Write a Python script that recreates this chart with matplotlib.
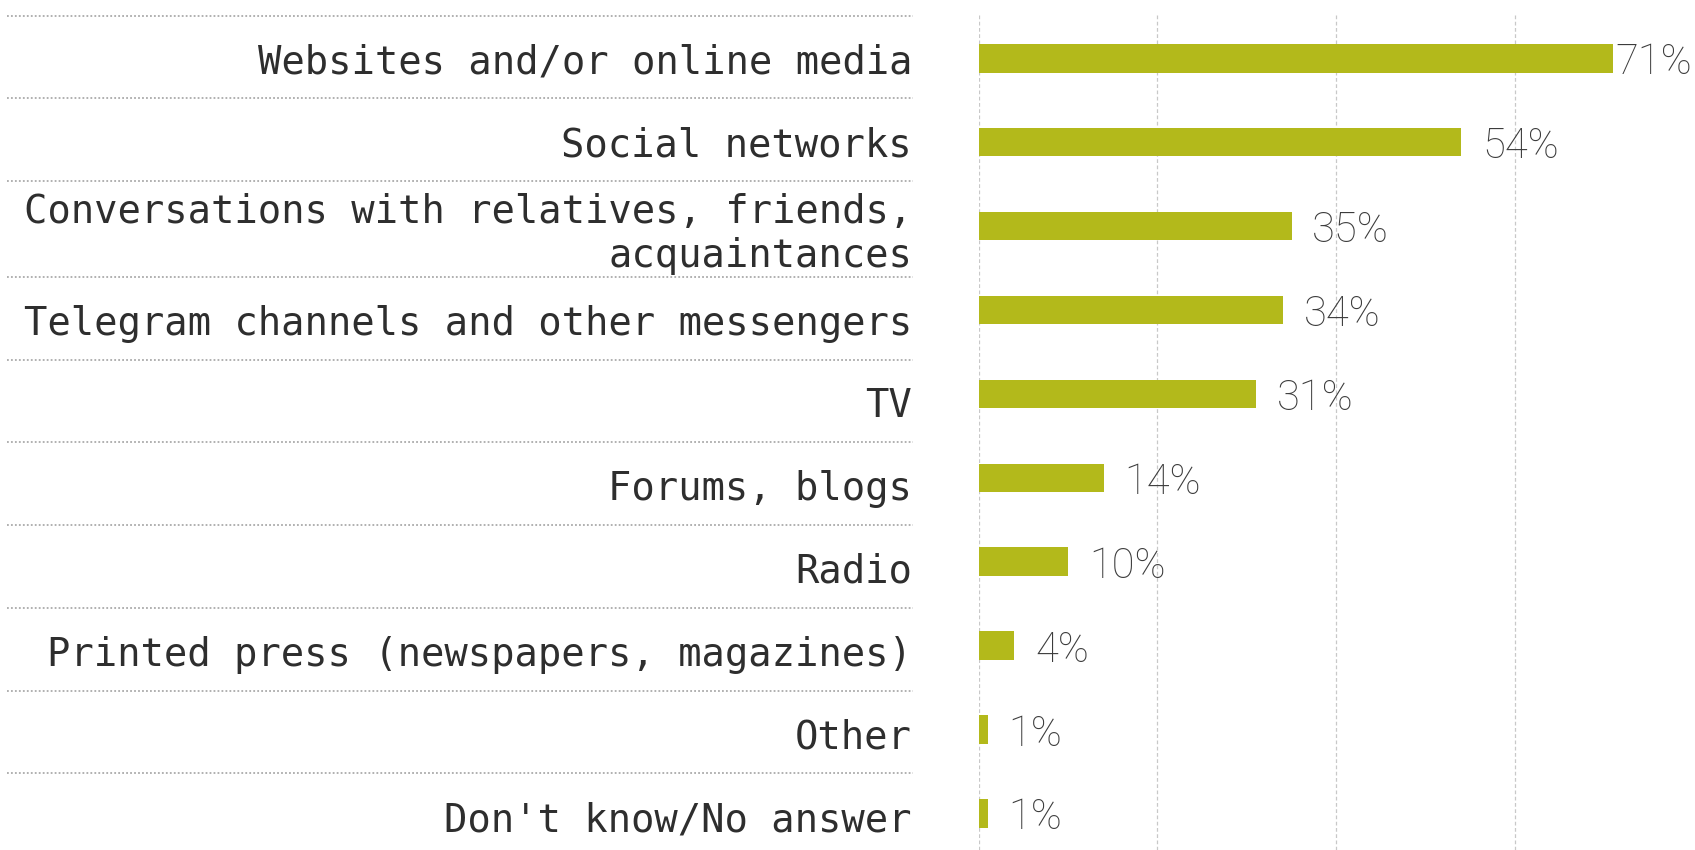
import numpy as np
import matplotlib
matplotlib.use("Agg")
from matplotlib import pyplot as plt
from matplotlib import transforms

categories = [
    "Websites and/or online media",
    "Social networks",
    "Conversations with relatives, friends,\nacquaintances",
    "Telegram channels and other messengers",
    "TV",
    "Forums, blogs",
    "Radio",
    "Printed press (newspapers, magazines)",
    "Other",
    "Don't know/No answer",
]
shares = [71, 54, 35, 34, 31, 14, 10, 4, 1, 1]
grid_ticks = [0, 20, 40, 60]

BAR_COLOR = "#b3b91b"
W, H = 1695, 850


def label_cells(labels, top=-0.508, row_h=0.986, extra_line=0.155):
    # one cell per label; a wrapped label gets a taller cell
    edges = [top]
    for lab in labels:
        edges.append(edges[-1] + row_h + extra_line * lab.count("\n"))
    return edges


def drawChart(categories, shares):
    fig = plt.figure(figsize=(W / 100, H / 100), dpi=100)
    ax = fig.add_axes([978.6 / W, 0, (1693.8 - 978.6) / W, 1 - 15 / H])

    y = np.arange(len(categories))
    ax.barh(y, shares, height=0.34, color=BAR_COLOR, zorder=2)
    ax.set_xlim(0, 80)
    ax.set_ylim(len(categories) - 0.564, -0.516)
    ax.set_xticks(grid_ticks)
    ax.set_yticks([])
    ax.tick_params(length=0, labelbottom=False)
    ax.grid(axis="x", color="#c8c8c8", linestyle=(0, (3, 2)), linewidth=0.9, zorder=0)
    for s in ax.spines.values():
        s.set_visible(False)

    # category labels + dotted separators live left of the bars
    trans = transforms.blended_transform_factory(fig.transFigure, ax.transData)
    edges = label_cells(categories)
    for i, lab in enumerate(categories):
        ax.plot([7 / W, 913 / W], [edges[i], edges[i]], transform=trans,
                clip_on=False, color="#aaaaaa", linewidth=1.3,
                linestyle=(0, (1, 1.2)))
        mid = (edges[i] + edges[i + 1]) / 2 + 0.065
        ax.text(912 / W, mid, lab, transform=trans, ha="right", va="center",
                family="DejaVu Sans Mono", fontsize=28, color="#2e2e2e",
                linespacing=1.2)

    # value labels, pulled back inside the figure when they overflow
    fig.canvas.draw()
    renderer = fig.canvas.get_renderer()
    for yi, v in zip(y, shares):
        t = ax.annotate(f"{v}%", (v, yi), xytext=(15, 0),
                        textcoords="offset points", va="center_baseline",
                        family="Roboto", fontweight="light", fontsize=30,
                        color="#3c3c3c", annotation_clip=False)
        bb = t.get_window_extent(renderer)
        if bb.x1 > W - 3:
            t.set_position((0, 0))
            t.xy = (1 - 3 / W, yi)
            t.xycoords = trans
            t.set_ha("right")

    fig.savefig("out.png", dpi=100)


def main():
    drawChart(categories, shares)


if __name__ == "__main__":
    main()
